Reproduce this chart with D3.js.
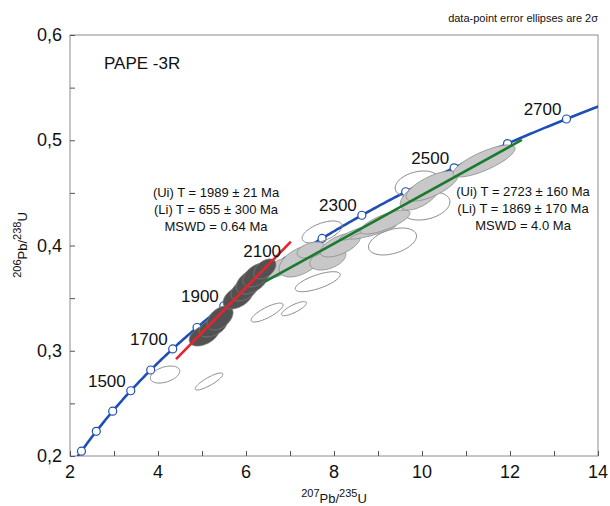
<!DOCTYPE html>
<html><head><meta charset="utf-8">
<script src="https://cdn.jsdelivr.net/npm/d3@7"></script>
<style>
body{margin:0;background:#fff;}
svg{display:block;font-family:"Liberation Sans",Arial,Helvetica,sans-serif;}
</style></head>
<body><svg id="c" width="610" height="506"></svg>
<script>
// ---- data ----
const xTicks = [2,4,6,8,10,12,14];
const xTickLabels = ["2","4","6","8","10","12","14"];
const yTicks = [0.2,0.3,0.4,0.5,0.6];
const yTickLabels = ["0,2","0,3","0,4","0,5","0,6"];
const markerAges = [1200,1300,1400,1500,1600,1700,1800,1900,2000,2100,2200,2300,2400,2500,2600,2700];
const labelAges = [1500,1700,1900,2100,2300,2500,2700];
// ellipses: [x(207/235), y(206/238), sx, sy, rho]
const openEllipses = [
  [4.16,0.2774,0.334,0.0081,0.4],
  [5.16,0.2708,0.314,0.0081,0.85],
  [6.48,0.3363,0.364,0.0090,0.8],
  [7.09,0.3400,0.284,0.0067,0.8],
  [7.63,0.3656,0.511,0.0095,0.7],
  [7.73,0.4128,0.455,0.0105,0.55],
  [9.33,0.4038,0.545,0.0128,0.4],
  [9.89,0.4584,0.500,0.0124,0.3],
  [10.09,0.4375,0.545,0.0133,0.3]
];
const greyEllipses = [
  [6.75,0.3786,0.318,0.0095,0.6],
  [7.25,0.3853,0.500,0.0152,0.5],
  [7.86,0.3872,0.409,0.0105,0.4],
  [7.48,0.3957,0.318,0.0076,0.4],
  [8.14,0.4005,0.455,0.0114,0.6],
  [8.59,0.4128,0.455,0.0076,0.85],
  [8.89,0.4128,0.520,0.0067,0.9],
  [9.16,0.4223,0.568,0.0114,0.75],
  [9.96,0.4480,0.455,0.0143,0.6],
  [10.23,0.4565,0.590,0.0143,0.7],
  [11.41,0.4803,0.705,0.0152,0.78]
];
const darkEllipses = [
  [5.05,0.3150,0.341,0.0105,0.45],
  [5.25,0.3226,0.318,0.0095,0.45],
  [5.41,0.3311,0.295,0.0114,0.45],
  [5.82,0.3511,0.341,0.0114,0.45],
  [5.98,0.3587,0.318,0.0114,0.45],
  [6.14,0.3663,0.364,0.0124,0.45],
  [6.25,0.3720,0.318,0.0114,0.45],
  [6.43,0.3777,0.250,0.0095,0.45]
];
const redLine = [[4.41,0.292],[7.02,0.4036]];
const greenLine = [[6.43,0.3656],[12.27,0.5003]];
const leftNote = ["(Ui) T = 1989 \u00b1 21 Ma","(Li) T = 655 \u00b1 300 Ma","MSWD = 0.64 Ma"];
const rightNote = ["(Ui) T = 2723 \u00b1 160 Ma","(Li) T = 1869 \u00b1 170 Ma","MSWD = 4.0 Ma"];
const L238 = 1.55125e-10, L235 = 9.8485e-10;

// ---- chart ----
const svg = d3.select("#c");
const m = {l:70, r:598, t:35, b:456};
const x = d3.scaleLinear().domain([2,14]).range([m.l,m.r]);
const y = d3.scaleLinear().domain([0.2,0.6]).range([m.b,m.t]);
const conc = t => [Math.exp(L235*t*1e6)-1, Math.exp(L238*t*1e6)-1];

const defs = svg.append("defs");
defs.append("clipPath").attr("id","clip").append("rect")
  .attr("x",m.l).attr("y",m.t).attr("width",m.r-m.l).attr("height",m.b-m.t);

// frame
svg.append("rect").attr("x",m.l).attr("y",m.t).attr("width",m.r-m.l).attr("height",m.b-m.t)
  .attr("fill","none").attr("stroke","#8c8c8c").attr("stroke-width",1);

// axes
const xAxis = d3.axisBottom(x).tickValues(d3.range(2,14.01,1)).tickSize(-5).tickFormat("");
svg.append("g").attr("transform",`translate(0,${m.b})`).call(xAxis)
  .call(g=>{g.select(".domain").remove();g.selectAll("line").attr("stroke","#555");});
const yAxis = d3.axisLeft(y).tickValues(d3.range(0.2,0.601,0.05)).tickSize(-5).tickFormat("");
svg.append("g").attr("transform",`translate(${m.l},0)`).call(yAxis)
  .call(g=>{g.select(".domain").remove();g.selectAll("line").attr("stroke","#555");});

svg.append("g").selectAll("text").data(xTicks).join("text")
  .attr("x",d=>x(d)).attr("y",m.b+22).attr("text-anchor","middle")
  .attr("font-size",18).attr("fill","#111").text((d,i)=>xTickLabels[i]);
svg.append("g").selectAll("text").data(yTicks).join("text")
  .attr("x",m.l-8).attr("y",d=>y(d)+6).attr("text-anchor","end")
  .attr("font-size",18).attr("fill","#111").text((d,i)=>yTickLabels[i]);

// axis titles
const xt = svg.append("text").attr("x",x(8)).attr("y",503).attr("text-anchor","middle").attr("fill","#111");
xt.append("tspan").attr("font-size",11).attr("dy",-6).text("207");
xt.append("tspan").attr("font-size",13).attr("dy",6).text("Pb/");
xt.append("tspan").attr("font-size",11).attr("dy",-6).text("235");
xt.append("tspan").attr("font-size",13).attr("dy",6).text("U");
const yt = svg.append("text").attr("transform","translate(27,245) rotate(-90)").attr("text-anchor","middle").attr("fill","#111");
yt.append("tspan").attr("font-size",11).attr("dy",-6).text("206");
yt.append("tspan").attr("font-size",13).attr("dy",6).text("Pb/");
yt.append("tspan").attr("font-size",11).attr("dy",-6).text("238");
yt.append("tspan").attr("font-size",13).attr("dy",6).text("U");

svg.append("text").attr("x",598).attr("y",22).attr("text-anchor","end").attr("font-size",11)
  .attr("fill","#111").text("data-point error ellipses are 2\u03c3");
svg.append("text").attr("x",104).attr("y",69).attr("font-size",17).attr("fill","#111").text("PAPE -3R");

const plot = svg.append("g").attr("clip-path","url(#clip)");

// concordia curve
const ages = d3.range(1100,2800,5);
const line = d3.line().x(d=>x(d[0])).y(d=>y(d[1]));
plot.append("path").attr("d",line(ages.map(conc))).attr("fill","none")
  .attr("stroke","#1f4fb5").attr("stroke-width",2.6);
plot.selectAll("circle.mk").data(markerAges).join("circle").attr("class","mk")
  .attr("cx",d=>x(conc(d)[0])).attr("cy",d=>y(conc(d)[1])).attr("r",4)
  .attr("fill","#fff").attr("stroke","#1f4fb5").attr("stroke-width",1.2);

// ellipses
function ellPath(e){
  const [cx,cy,sx,sy,r]=e; const pts=[];
  for(let i=0;i<=72;i++){const a=i/72*2*Math.PI;
    pts.push([cx+sx*Math.cos(a), cy+sy*(r*Math.cos(a)+Math.sqrt(1-r*r)*Math.sin(a))]);}
  return line(pts)+"Z";
}
plot.selectAll("path.oe").data(openEllipses).join("path").attr("class","oe")
  .attr("d",ellPath).attr("fill","none").attr("stroke","#8a8a8a").attr("stroke-width",1);
plot.selectAll("path.ge").data(greyEllipses).join("path").attr("class","ge")
  .attr("d",ellPath).attr("fill","#c8c8c8").attr("stroke","#8a8a8a").attr("stroke-width",0.8);
plot.selectAll("path.de").data(darkEllipses).join("path").attr("class","de")
  .attr("d",ellPath).attr("fill","#525252").attr("stroke","#7a7a7a").attr("stroke-width",0.8);

// discordia lines
plot.append("path").attr("d",line(redLine)).attr("stroke","#e8232b").attr("stroke-width",2.6).attr("fill","none");
plot.append("path").attr("d",line(greenLine)).attr("stroke","#1b7a30").attr("stroke-width",2.6).attr("fill","none");

// age labels
svg.append("g").selectAll("text").data(labelAges).join("text")
  .attr("x",d=>x(conc(d)[0])-5).attr("y",d=>y(conc(d)[1])-4)
  .attr("text-anchor","end").attr("font-size",17).attr("fill","#111").text(d=>d);

// notes
svg.append("g").selectAll("text").data(leftNote).join("text")
  .attr("x",216).attr("y",(d,i)=>197+i*17).attr("text-anchor","middle")
  .attr("font-size",13).attr("fill","#111").text(d=>d);
svg.append("g").selectAll("text").data(rightNote).join("text")
  .attr("x",523).attr("y",(d,i)=>196+i*17).attr("text-anchor","middle")
  .attr("font-size",13).attr("fill","#111").text(d=>d);
</script></body></html>
